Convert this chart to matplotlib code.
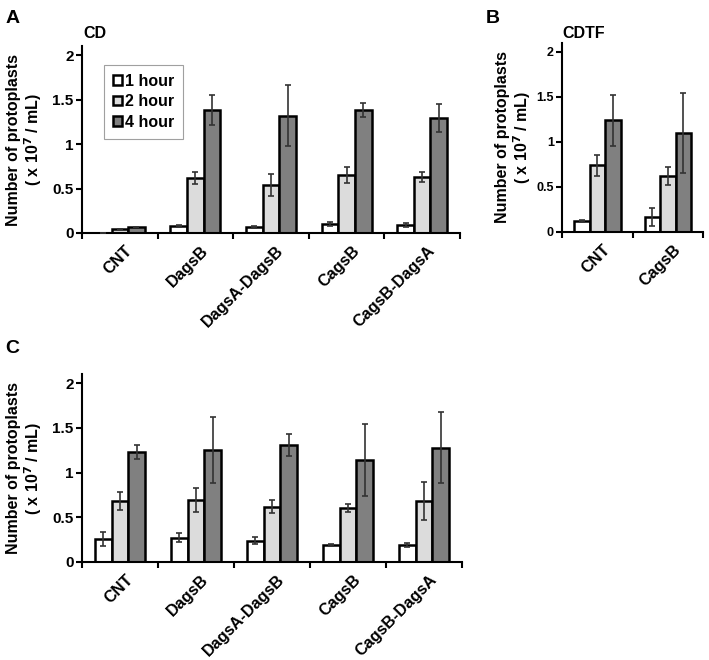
import numpy as np
import matplotlib.pyplot as plt
import matplotlib.transforms as mtransforms

plt.rcParams["font.family"] = ["Liberation Sans", "DejaVu Sans"]
plt.rcParams["font.weight"] = "bold"

hours = ["1 hour", "2 hour", "4 hour"]
bar_colors = ["#ffffff", "#dcdcdc", "#808080"]

# panel A - CD
cats_a = ["CNT", "DagsB", "DagsA-DagsB", "CagsB", "CagsB-DagsA"]
a_1h = [0.005, 0.08, 0.07, 0.10, 0.09]
a_1h_err = [0.0, 0.01, 0.01, 0.02, 0.02]
a_2h = [0.04, 0.62, 0.54, 0.65, 0.63]
a_2h_err = [0.0, 0.07, 0.12, 0.09, 0.06]
a_4h = [0.07, 1.38, 1.32, 1.38, 1.29]
a_4h_err = [0.0, 0.17, 0.34, 0.08, 0.16]

# panel B - CDTF
cats_b = ["CNT", "CagsB"]
b_1h = [0.12, 0.17]
b_1h_err = [0.01, 0.10]
b_2h = [0.74, 0.62]
b_2h_err = [0.12, 0.10]
b_4h = [1.24, 1.10]
b_4h_err = [0.28, 0.44]

# panel C
cats_c = ["CNT", "DagsB", "DagsA-DagsB", "CagsB", "CagsB-DagsA"]
c_1h = [0.26, 0.27, 0.24, 0.19, 0.19]
c_1h_err = [0.08, 0.05, 0.035, 0.015, 0.02]
c_2h = [0.68, 0.69, 0.62, 0.60, 0.68]
c_2h_err = [0.10, 0.135, 0.07, 0.045, 0.21]
c_4h = [1.23, 1.25, 1.31, 1.14, 1.28]
c_4h_err = [0.08, 0.37, 0.12, 0.40, 0.40]

ylabel = "Number of protoplasts\n( x 10$^\\mathbf{7}$ / mL)"


def draw_panel(fig, ax, cats, series, errs, label_x, ytick_size, legend=False):
    x = np.arange(len(cats))
    w = 0.22
    handles = []
    for i, (vals, err) in enumerate(zip(series, errs)):
        b = ax.bar(x + (i - 1) * w, vals, w, color=bar_colors[i], edgecolor="black",
                   linewidth=1.8, label=hours[i], zorder=2)
        ax.errorbar(x + (i - 1) * w, vals, yerr=err, fmt="none", ecolor="#333333",
                    elinewidth=1.2, capsize=2.5, capthick=1.2, zorder=3)
        handles.append(b)
    ax.set_xlim(-0.5, len(cats) - 0.5)
    ax.set_ylim(0, 2.1)
    ax.set_yticks([0, 0.5, 1, 1.5, 2])
    ax.set_yticklabels(["0", "0.5", "1", "1.5", "2"], fontsize=ytick_size, fontweight="bold")
    ax.set_xticks(x)
    ax.set_xticks(np.arange(len(cats) + 1) - 0.5, minor=True)
    ax.tick_params(axis="x", length=0, pad=7)
    ax.tick_params(axis="x", which="minor", length=4, width=1.5, direction="out")
    ax.tick_params(axis="y", length=4, width=1.5, direction="out", pad=2)
    ax.set_xticklabels(cats, rotation=45, ha="right", rotation_mode="anchor",
                       fontsize=11.7, fontweight="bold")
    # nudge the slanted labels a bit to the right
    shift = mtransforms.ScaledTranslation(5 / 100, 0, fig.dpi_scale_trans)
    for lab in ax.get_xticklabels():
        lab.set_transform(lab.get_transform() + shift)
    for s in ["top", "right"]:
        ax.spines[s].set_visible(False)
    for s in ["left", "bottom"]:
        ax.spines[s].set_linewidth(1.5)
    ax.set_ylabel(ylabel, fontsize=11.5, fontweight="bold", linespacing=1.1)
    ax.yaxis.set_label_coords(label_x, 0.5)
    if legend:
        leg = ax.legend(handles=handles, loc="upper left", bbox_to_anchor=(0.058, 0.9),
                        fontsize=11.5, handlelength=0.55, handleheight=0.55,
                        handletextpad=0.2, labelspacing=0.35, fancybox=False,
                        borderpad=0.55, borderaxespad=0, edgecolor="#888888")
        leg.get_frame().set_linewidth(0.8)


fig = plt.figure(figsize=(7.09, 6.60), dpi=100)

ax_a = fig.add_axes([0.1157, 0.647, 0.533, 0.283])
draw_panel(fig, ax_a, cats_a, [a_1h, a_2h, a_4h], [a_1h_err, a_2h_err, a_4h_err],
           -0.100, 11, legend=True)

ax_b = fig.add_axes([0.793, 0.6485, 0.1985, 0.2865])
draw_panel(fig, ax_b, cats_b, [b_1h, b_2h, b_4h], [b_1h_err, b_2h_err, b_4h_err],
           -0.207, 9)

ax_c = fig.add_axes([0.1157, 0.1485, 0.536, 0.2845])
draw_panel(fig, ax_c, cats_c, [c_1h, c_2h, c_4h], [c_1h_err, c_2h_err, c_4h_err],
           -0.100, 11)

fig.text(0.118, 0.943, "CD", fontsize=11.5, fontweight="bold")
fig.text(0.793, 0.943, "CDTF", fontsize=11.5, fontweight="bold")
fig.text(0.008, 0.965, "A", fontsize=14, fontweight="bold")
fig.text(0.685, 0.965, "B", fontsize=14, fontweight="bold")
fig.text(0.008, 0.465, "C", fontsize=14, fontweight="bold")

fig.savefig("out.png", dpi=100)
